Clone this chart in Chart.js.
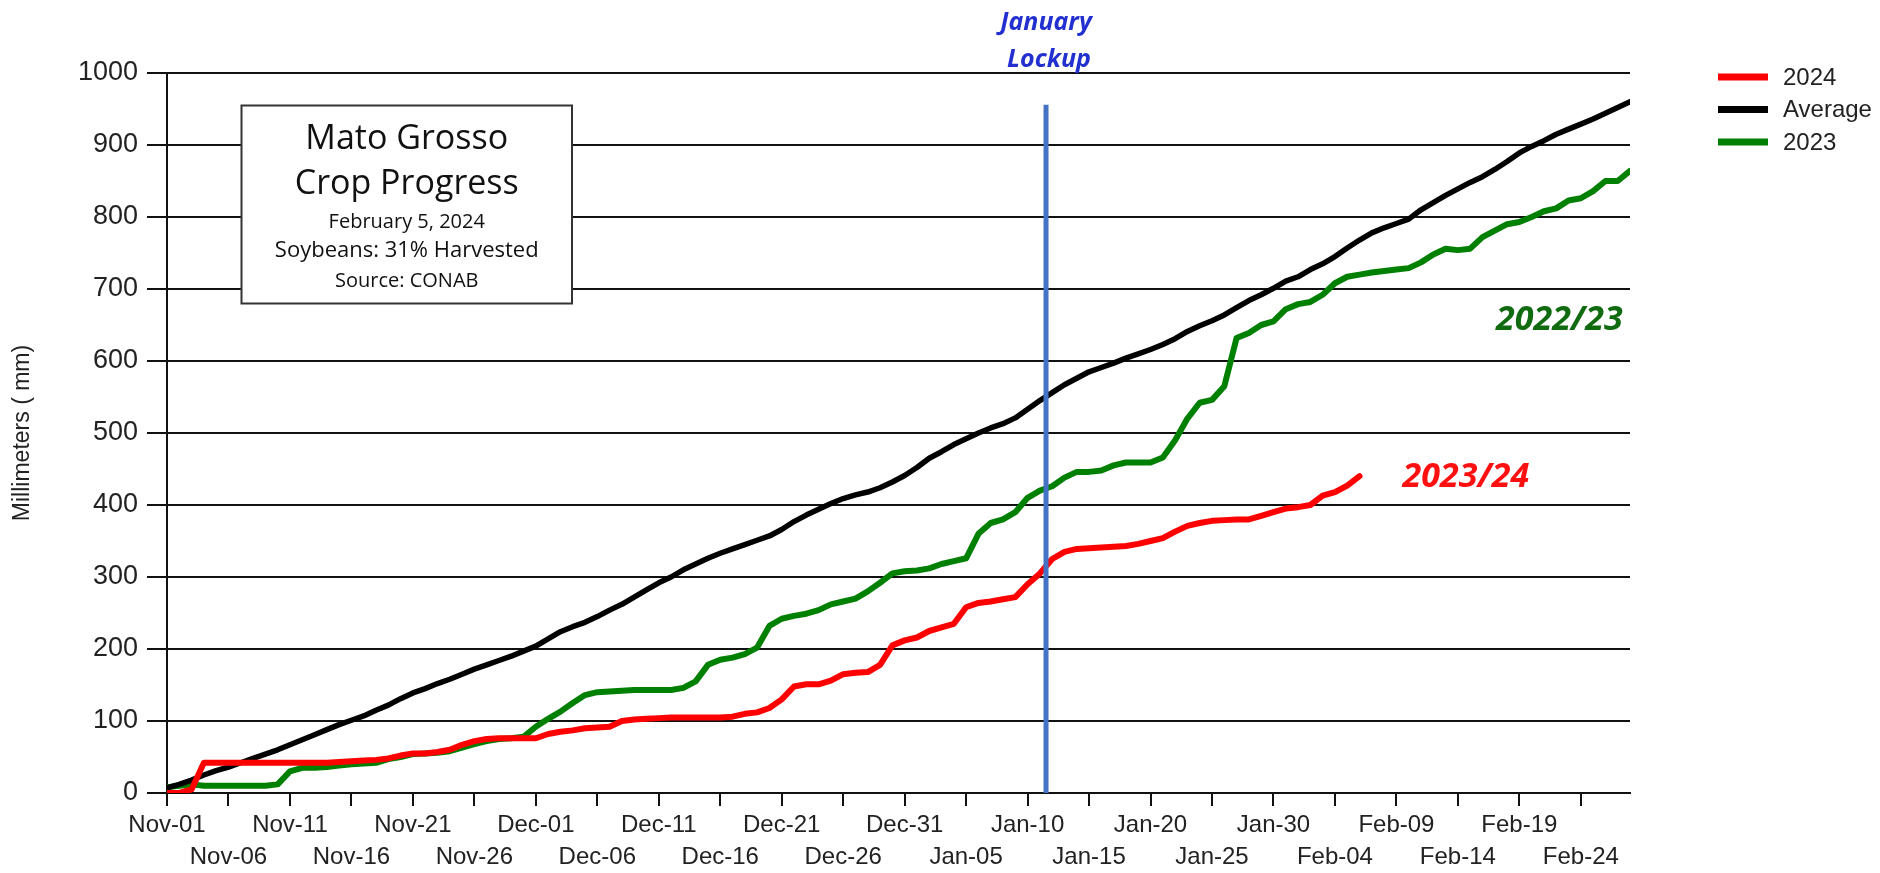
<!DOCTYPE html>
<html>
<head>
<meta charset="utf-8">
<script src="https://cdn.jsdelivr.net/npm/chart.js@4.4.1/dist/chart.umd.min.js"></script>
<style>
  html, body { margin: 0; padding: 0; background: #fff; }
  #wrap { width: 1880px; height: 873px; }
</style>
</head>
<body>
<div id="wrap"><canvas id="rainChart" width="1880" height="873"></canvas></div>
<script>
// Mato Grosso cumulative rainfall (mm), one value per day from Nov-01
const seriesNames = ["2024", "Average", "2023"];
const seriesColors = ["#ff0000", "#000000", "#008000"];

const rain2024 = [
  0, 0, 5, 42, 42, 42, 42, 42, 42, 42,
  42, 42, 42, 42, 43, 44, 45, 46, 48, 52,
  55, 55, 57, 60, 67, 72, 75, 76, 76, 76,
  76, 82, 85, 87, 90, 91, 92, 100, 102, 103,
  104, 105, 105, 105, 105, 105, 106, 110, 112, 118,
  130, 148, 151, 151, 156, 165, 167, 168, 178, 205,
  212, 216, 225, 230, 235, 258, 264, 266, 269, 272,
  290, 305, 325, 335, 339, 340, 341, 342, 343, 346,
  350, 354, 363, 371, 375, 378, 379, 380, 380, 385,
  390, 395, 397, 400, 413, 418, 427, 440
];

const rainAverage = [
  7, 12, 18, 25, 31, 36, 42, 48, 54, 60,
  67, 74, 81, 88, 95, 101, 107, 115, 122, 131,
  139, 145, 152, 158, 165, 172, 178, 184, 190, 197,
  204, 214, 224, 231, 237, 245, 254, 262, 272, 282,
  292, 300, 310, 318, 326, 333, 339, 345, 351, 357,
  366, 377, 386, 394, 402, 409, 414, 418, 424, 432,
  441, 452, 465, 474, 484, 492, 500, 507, 513, 521,
  533, 545, 556, 567, 576, 585, 591, 597, 604, 610,
  616, 623, 631, 641, 649, 656, 664, 674, 684, 692,
  701, 711, 717, 727, 735, 745, 757, 768, 778, 785,
  791, 797, 810, 820, 830, 839, 848, 856, 866, 877,
  889, 898, 906, 915, 922, 929, 936, 944, 952, 960
];

const rain2023 = [
  8, 10, 12, 10, 10, 10, 10, 10, 10, 12,
  30, 35, 35, 36, 38, 40, 41, 42, 47, 50,
  54, 55, 56, 58, 63, 68, 72, 75, 76, 78,
  92, 103, 113, 125, 136, 140, 141, 142, 143, 143,
  143, 143, 146, 155, 178, 185, 188, 193, 202, 232,
  242, 246, 249, 254, 262, 266, 270, 280, 292, 305,
  308, 309, 312, 318, 322, 326, 360, 375, 380, 390,
  410, 420, 426, 438, 446, 446, 448, 455, 459, 459,
  459, 466, 490, 520, 542, 546, 565, 632, 639, 650,
  655, 672, 679, 682, 692, 708, 717, 720, 723, 725,
  727, 729, 737, 748, 756, 754, 756, 772, 781, 790,
  793, 800, 808, 812, 823, 826, 836, 850, 850, 864
];

const xTickLabels = [
  "Nov-01", "Nov-06", "Nov-11", "Nov-16", "Nov-21", "Nov-26",
  "Dec-01", "Dec-06", "Dec-11", "Dec-16", "Dec-21", "Dec-26", "Dec-31",
  "Jan-05", "Jan-10", "Jan-15", "Jan-20", "Jan-25", "Jan-30",
  "Feb-04", "Feb-09", "Feb-14", "Feb-19", "Feb-24"
];

const lockupDay = 71.5;
const lockupTop = 956;
const boxLines = ["Mato Grosso", "Crop Progress", "February 5, 2024", "Soybeans: 31% Harvested", "Source: CONAB"];

const toPoints = (arr) => arr.map((v, i) => ({ x: i, y: v }));

const overlayPlugin = {
  id: "overlay",
  afterDatasetsDraw(chart) {
    const { ctx, scales: { x, y } } = chart;
    ctx.save();

    // January lockup line
    const lx = x.getPixelForValue(lockupDay);
    ctx.strokeStyle = "#4472c4";
    ctx.lineWidth = 5;
    ctx.beginPath();
    ctx.moveTo(lx, y.getPixelForValue(lockupTop));
    ctx.lineTo(lx, y.getPixelForValue(0));
    ctx.stroke();

    ctx.fillStyle = "#2330d0";
    ctx.font = "italic bold 25px 'Open Sans'";
    ctx.textAlign = "center";
    ctx.textBaseline = "alphabetic";
    ctx.fillText("January", lx, 30);
    ctx.fillText("Lockup", lx + 3, 67);

    // season labels
    ctx.font = "italic bold 34px 'Open Sans'";
    ctx.fillStyle = "#106b10";
    ctx.textAlign = "right";
    ctx.fillText("2022/23", x.getPixelForValue(118.4), y.getPixelForValue(643));
    ctx.fillStyle = "#ff1010";
    ctx.textAlign = "left";
    ctx.fillText("2023/24", x.getPixelForValue(100.5), y.getPixelForValue(425));

    // info box
    const bx0 = 241.5, by0 = 105.5, bw = 330.5, bh = 198;
    ctx.fillStyle = "#fff";
    ctx.fillRect(bx0, by0, bw, bh);
    ctx.strokeStyle = "#333";
    ctx.lineWidth = 2;
    ctx.strokeRect(bx0, by0, bw, bh);
    const cx = bx0 + bw / 2;
    ctx.fillStyle = "#111";
    ctx.textAlign = "center";
    ctx.font = "34px 'Open Sans'";
    ctx.fillText(boxLines[0], cx, 149);
    ctx.fillText(boxLines[1], cx, 194);
    ctx.font = "20px 'Open Sans'";
    ctx.fillText(boxLines[2], cx, 228);
    ctx.font = "22px 'Open Sans'";
    ctx.fillText(boxLines[3], cx, 257);
    ctx.font = "20px 'Open Sans'";
    ctx.fillText(boxLines[4], cx, 287);

    // legend
    ctx.font = "24px 'Liberation Sans'";
    ctx.textAlign = "left";
    ctx.textBaseline = "middle";
    seriesNames.forEach((name, i) => {
      const ly = 77 + i * 32.5;
      ctx.strokeStyle = seriesColors[i];
      ctx.lineWidth = 7;
      ctx.beginPath();
      ctx.moveTo(1718, ly);
      ctx.lineTo(1768, ly);
      ctx.stroke();
      ctx.fillStyle = "#222";
      ctx.fillText(name, 1783, ly + 1);
    });

    ctx.restore();
  }
};

new Chart(document.getElementById("rainChart"), {
  type: "line",
  data: {
    datasets: [
      { label: seriesNames[0], data: toPoints(rain2024), borderColor: seriesColors[0], borderWidth: 6 },
      { label: seriesNames[1], data: toPoints(rainAverage), borderColor: seriesColors[1], borderWidth: 5.5 },
      { label: seriesNames[2], data: toPoints(rain2023), borderColor: seriesColors[2], borderWidth: 6 }
    ]
  },
  options: {
    responsive: false,
    animation: false,
    devicePixelRatio: 1,
    layout: { padding: { top: 73, right: 250, left: 0, bottom: 0 } },
    elements: {
      point: { radius: 0 },
      line: { tension: 0, borderJoinStyle: "round", borderCapStyle: "round" }
    },
    plugins: { legend: { display: false }, tooltip: { enabled: false } },
    scales: {
      x: {
        type: "linear",
        min: 0,
        max: 119,
        afterFit: (scale) => { scale.height = 80; },
        grid: { drawOnChartArea: false, drawTicks: true, tickLength: 13, color: "#111", lineWidth: 2 },
        border: { display: true, color: "#111", width: 2 },
        ticks: {
          stepSize: 5,
          includeBounds: false,
          autoSkip: false,
          maxRotation: 0,
          padding: 4,
          color: "#222",
          font: { family: "'Liberation Sans'", size: 24, lineHeight: 1.31 },
          callback: (value, index) => {
            const lbl = xTickLabels[Math.round(value / 5)];
            return index % 2 ? ["", lbl] : lbl;
          }
        }
      },
      y: {
        min: 0,
        max: 1000,
        afterFit: (scale) => { scale.width = 167; },
        grid: { color: "#111", lineWidth: 2, tickLength: 20 },
        border: { display: true, color: "#111", width: 2 },
        ticks: {
          stepSize: 100,
          padding: 9,
          color: "#222",
          font: { family: "'Liberation Sans'", size: 27 },
          callback: (value) => String(value)
        },
        title: {
          display: true,
          text: "Millimeters ( mm)",
          color: "#222",
          padding: { top: 9, bottom: 0 },
          font: { family: "'Liberation Sans'", size: 23 }
        }
      }
    }
  },
  plugins: [overlayPlugin]
});
</script>
</body>
</html>
